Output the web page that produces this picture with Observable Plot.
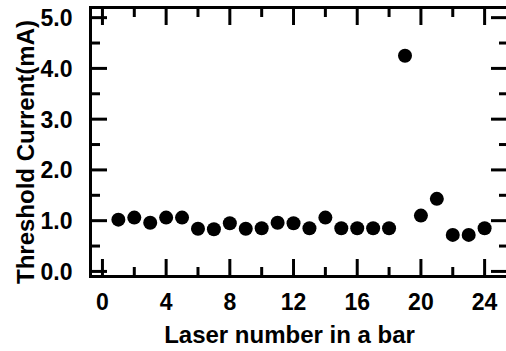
<!DOCTYPE html>
<html>
<head>
<meta charset="utf-8">
<script src="https://cdn.jsdelivr.net/npm/d3@7"></script>
<script src="https://cdn.jsdelivr.net/npm/@observablehq/plot@0.6"></script>
<style>
  html, body { margin: 0; padding: 0; background: #fff; }
  #chart { width: 506px; height: 351px; overflow: hidden; }
</style>
</head>
<body>
<div id="chart"></div>
<script>
// Data
const laserNumber = [1, 2, 3, 4, 5, 6, 7, 8, 9, 10, 11, 12, 13, 14, 15, 16, 17, 18, 19, 20, 21, 22, 23, 24];
const thresholdCurrent = [1.02, 1.06, 0.96, 1.06, 1.06, 0.84, 0.83, 0.95, 0.84, 0.85, 0.96, 0.95,
                          0.85, 1.06, 0.85, 0.85, 0.85, 0.85, 4.25, 1.10, 1.43, 0.72, 0.72, 0.85];
const xMajorTicks = [0, 4, 8, 12, 16, 20, 24];
const xMinorTicks = [2, 6, 10, 14, 18, 22];
const yMajorTicks = [0, 1, 2, 3, 4, 5];
const yMinorTicks = [0.5, 1.5, 2.5, 3.5, 4.5];
const xTitle = "Laser number in a bar";
const yTitle = "Threshold Current(mA)";

const points = laserNumber.map((n, i) => ({n, v: thresholdCurrent[i]}));

const W = 506, H = 351;
const mL = 90, mR = -2, mT = 7, mB = 75;
const fw = W - mL - mR;   // frame width
const fh = H - mT - mB;   // frame height
const font = "'Liberation Sans', Arial, Helvetica, sans-serif";
const fmt = d3.format(".1f");

const chart = Plot.plot({
  width: W,
  height: H,
  marginLeft: mL,
  marginRight: mR,
  marginTop: mT,
  marginBottom: mB,
  style: {fontFamily: font, fontWeight: "bold", color: "#000", background: "#fff", overflow: "visible"},
  x: {domain: [-0.75, 25.5], axis: null},
  y: {domain: [-0.1, 5.2], axis: null},
  marks: [
    Plot.frame({stroke: "#000", strokeWidth: 3}),
    // inward ticks: bottom
    Plot.tickX(xMajorTicks, {x: d => d, insetTop: fh - 17, stroke: "#000", strokeWidth: 3}),
    Plot.tickX(xMinorTicks, {x: d => d, insetTop: fh - 9, stroke: "#000", strokeWidth: 3}),
    // top
    Plot.tickX(xMajorTicks, {x: d => d, insetBottom: fh - 18, stroke: "#000", strokeWidth: 3}),
    Plot.tickX(xMinorTicks, {x: d => d, insetBottom: fh - 10, stroke: "#000", strokeWidth: 3}),
    // left
    Plot.tickY(yMajorTicks, {y: d => d, insetRight: fw - 17, stroke: "#000", strokeWidth: 3}),
    Plot.tickY(yMinorTicks, {y: d => d, insetRight: fw - 10, stroke: "#000", strokeWidth: 3}),
    // right
    Plot.tickY(yMajorTicks, {y: d => d, insetLeft: fw - 17, stroke: "#000", strokeWidth: 3}),
    Plot.tickY(yMinorTicks, {y: d => d, insetLeft: fw - 9, stroke: "#000", strokeWidth: 3}),
    // tick labels
    Plot.text(xMajorTicks, {x: d => d, text: d => String(d), frameAnchor: "bottom", lineAnchor: "top", textAnchor: "middle", dy: 17, fontSize: 23, fontWeight: "bold", fill: "#000"}),
    Plot.text(yMajorTicks, {y: d => d, text: d => fmt(d), frameAnchor: "left", textAnchor: "end", lineAnchor: "middle", dx: -18, dy: 1, fontSize: 23, fontWeight: "bold", fill: "#000"}),
    Plot.dot(points, {x: "n", y: "v", r: 7, fill: "#000", stroke: null}),
    Plot.text([xTitle], {text: d => d, frameAnchor: "bottom", textAnchor: "middle", lineAnchor: "bottom", dx: -10, dy: 66, fontSize: 24, fontWeight: "bold", fill: "#000"}),
    Plot.text([yTitle], {text: d => d, frameAnchor: "left", textAnchor: "middle", rotate: -90, lineAnchor: "bottom", dx: -57, dy: 10, fontSize: 24, fontWeight: "bold", fill: "#000"})
  ]
});
document.getElementById("chart").appendChild(chart);
</script>
</body>
</html>
